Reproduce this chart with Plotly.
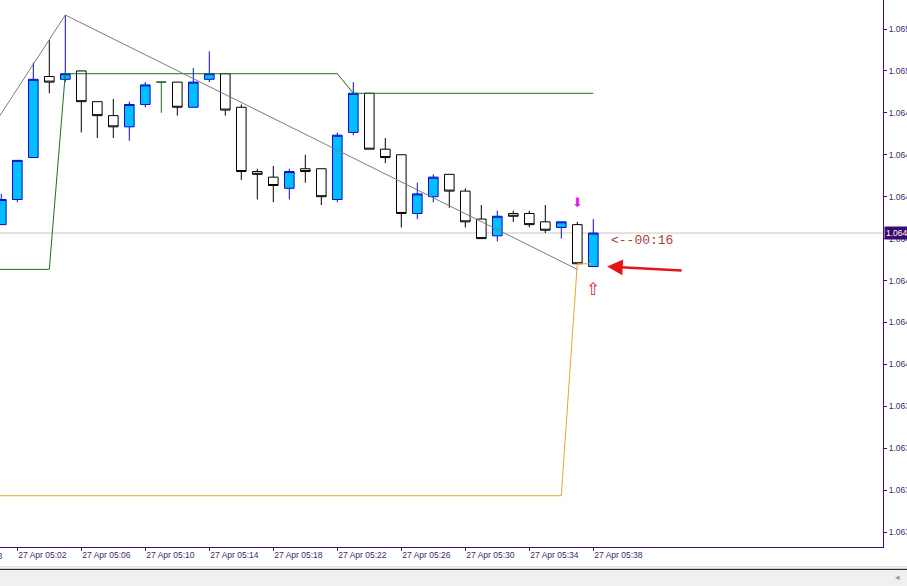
import plotly.graph_objects as go
import pandas as pd

DAY = "2023-04-27 "

# ---- 1-minute candles (27 Apr 05:01 .. 05:38) ----
times = ["05:01", "05:02", "05:03", "05:04", "05:05", "05:06", "05:07", "05:08", "05:09", "05:10",
         "05:11", "05:12", "05:13", "05:14", "05:15", "05:16", "05:17", "05:18", "05:19", "05:20",
         "05:21", "05:22", "05:23", "05:24", "05:25", "05:26", "05:27", "05:28", "05:29", "05:30",
         "05:31", "05:32", "05:33", "05:34", "05:35", "05:36", "05:37", "05:38"]
opens = [1.06455, 1.06464, 1.06479, 1.06508, 1.06507, 1.06510, 1.06499, 1.06494, 1.06490, 1.06498,
         1.06506, 1.06506, 1.06497, 1.06507, 1.06509, 1.06497, 1.06474, 1.06472, 1.06468, 1.06475,
         1.06475, 1.06464, 1.06488, 1.06502, 1.06482, 1.06480, 1.06459, 1.06465, 1.06473, 1.06467,
         1.06457, 1.06451, 1.06459, 1.06459, 1.06456, 1.06454, 1.06455, 1.06440]
highs = [1.06466, 1.06478, 1.06513, 1.06521, 1.06530, 1.06510, 1.06499, 1.06500, 1.06499, 1.06506,
         1.06506, 1.06506, 1.06511, 1.06517, 1.06509, 1.06498, 1.06475, 1.06476, 1.06475, 1.06480,
         1.06475, 1.06488, 1.06506, 1.06502, 1.06486, 1.06480, 1.06470, 1.06473, 1.06473, 1.06468,
         1.06462, 1.06460, 1.06460, 1.06460, 1.06462, 1.06456, 1.06456, 1.06457]
lows = [1.06455, 1.06463, 1.06479, 1.06502, 1.06506, 1.06488, 1.06486, 1.06486, 1.06485, 1.06497,
        1.06495, 1.06494, 1.06497, 1.06506, 1.06494, 1.06471, 1.06464, 1.06463, 1.06464, 1.06470,
        1.06462, 1.06463, 1.06487, 1.06482, 1.06477, 1.06454, 1.06457, 1.06463, 1.06461, 1.06454,
        1.06450, 1.06449, 1.06456, 1.06454, 1.06452, 1.06450, 1.06441, 1.06440]
closes = [1.06464, 1.06478, 1.06507, 1.06506, 1.06509, 1.06499, 1.06494, 1.06490, 1.06498, 1.06505,
          1.06506, 1.06497, 1.06506, 1.06509, 1.06496, 1.06474, 1.06473, 1.06469, 1.06474, 1.06474,
          1.06465, 1.06487, 1.06502, 1.06482, 1.06479, 1.06459, 1.06466, 1.06472, 1.06467, 1.06456,
          1.06450, 1.06458, 1.06458, 1.06455, 1.06453, 1.06456, 1.06441, 1.06452]

# ---- indicator lines (vertices) ----
zigzag_times = ["05:00", "05:05", "05:37"]
zigzag_vals = [1.06486, 1.06530, 1.06439]
green_times = ["05:00", "05:04", "05:05", "05:22", "05:23", "05:38"]
green_vals = [1.06439, 1.06439, 1.06509, 1.06509, 1.06502, 1.06502]
orange_times = ["05:00", "05:36", "05:37", "05:38"]
orange_vals = [1.06358, 1.06358, 1.06441, 1.06441]

# ---- axes ----
y_ticks = [1.06525, 1.06510, 1.06495, 1.06480, 1.06465, 1.06450, 1.06435,
           1.06420, 1.06405, 1.06390, 1.06375, 1.06360, 1.06345]
x_tick_times = ["05:02", "05:06", "05:10", "05:14", "05:18", "05:22", "05:26", "05:30", "05:34", "05:38"]
x_tick_labels = ["27 Apr 05:02", "27 Apr 05:06", "27 Apr 05:10", "27 Apr 05:14", "27 Apr 05:18",
                 "27 Apr 05:22", "27 Apr 05:26", "27 Apr 05:30", "27 Apr 05:34", "27 Apr 05:38"]
prev_label = "27 Apr 04:58"
timer_text = "<--00:16"

AXC = "#3d1070"
LBL = "#3a2a72"
FONT = "Liberation Sans"
FS = 8.5

t = pd.to_datetime([DAY + s for s in times])
df = pd.DataFrame({"t": t, "o": opens, "h": highs, "l": lows, "c": closes})
doji = df[df.o == df.c]
main = df[df.o != df.c]

fig = go.Figure()
fig.add_trace(go.Scatter(x=pd.to_datetime([DAY + s for s in orange_times]), y=orange_vals,
                         mode="lines", line=dict(color="#e6a532", width=1), hoverinfo="skip"))
fig.add_trace(go.Scatter(x=pd.to_datetime([DAY + s for s in green_times]), y=green_vals,
                         mode="lines", line=dict(color="#1f6e1f", width=1), hoverinfo="skip"))
fig.add_trace(go.Scatter(x=pd.to_datetime([DAY + s for s in zigzag_times]), y=zigzag_vals,
                         mode="lines", line=dict(color="#7c7c88", width=1), hoverinfo="skip"))
fig.add_trace(go.Candlestick(
    x=main.t, open=main.o, high=main.h, low=main.l, close=main.c,
    increasing=dict(line=dict(color="#0a0ac8", width=1), fillcolor="#00bfff"),
    decreasing=dict(line=dict(color="#000000", width=1), fillcolor="#ffffff"),
    whiskerwidth=0))
fig.add_trace(go.Candlestick(
    x=doji.t, open=doji.o, high=doji.h, low=doji.l, close=doji.c,
    increasing=dict(line=dict(color="#1f6e1f", width=1), fillcolor="#1f6e1f"),
    decreasing=dict(line=dict(color="#1f6e1f", width=1), fillcolor="#1f6e1f"),
    whiskerwidth=0))

last_t = t[-1]
last_c = closes[-1]

x_range = [pd.Timestamp(DAY + "05:02") - pd.Timedelta(seconds=64.9),
           pd.Timestamp(DAY + "05:02") + pd.Timedelta(seconds=3246.4)]

annotations = [
    dict(x=1, xref="paper", y=last_c, yref="y", text=f"{last_c:.5f}", showarrow=False,
         xanchor="left", yanchor="middle", xshift=1, bgcolor="#3a0a6c", borderpad=1,
         font=dict(family=FONT, size=FS, color="#ffffff")),
    dict(x=last_t + pd.Timedelta(seconds=60), y=1.064494, text=timer_text, showarrow=False,
         xanchor="left", yanchor="middle", font=dict(family="Liberation Mono", size=13, color="#a5403c")),
    dict(x=last_t + pd.Timedelta(seconds=52), y=lows[-1], ax=76, ay=4, axref="pixel", ayref="pixel",
         text="", showarrow=True, arrowhead=2, arrowsize=1.2, arrowwidth=2.6, arrowcolor="#e8141a"),
    dict(x=t[-2], y=1.06463, text="⬇", showarrow=False, yanchor="middle",
         font=dict(family="DejaVu Sans", size=13, color="#f018f0")),
    dict(x=last_t, y=1.06432, text="⇧", showarrow=False, yanchor="middle",
         font=dict(family="DejaVu Sans", size=17, color="#e01e28")),
    dict(x=0.004, xref="paper", y=-0.0165, yref="paper", text=prev_label, showarrow=False,
         xanchor="right", yanchor="middle", font=dict(family=FONT, size=FS, color=LBL)),
    dict(x=1.0165, xref="paper", y=-0.055, yref="paper", text="◂", showarrow=False,
         xanchor="center", yanchor="middle", font=dict(family="DejaVu Sans", size=9, color="#9a9a9a")),
]

shapes = [
    dict(type="line", xref="paper", x0=0, x1=1, yref="y", y0=last_c, y1=last_c,
         line=dict(color="#c8c8c8", width=1), layer="below"),
    dict(type="rect", xref="paper", x0=-0.01, x1=1.04, yref="paper", y0=-0.08, y1=-0.0397,
         fillcolor="#f0f0f0", line=dict(width=0), layer="above"),
    dict(type="line", xref="paper", x0=-0.01, x1=1.04, yref="paper", y0=-0.0363, y1=-0.0363,
         line=dict(color="#d8d8d8", width=1)),
    dict(type="line", xref="paper", x0=-0.01, x1=1.04, yref="paper", y0=-0.0408, y1=-0.0408,
         line=dict(color="#000000", width=1)),
]

fig.update_layout(
    width=907, height=586,
    margin=dict(l=0, r=24, t=0, b=39, pad=0, autoexpand=False),
    paper_bgcolor="#ffffff", plot_bgcolor="#ffffff",
    showlegend=False,
    boxgap=0.4, boxgroupgap=0,
    annotations=annotations, shapes=shapes,
    xaxis=dict(type="date", range=x_range, rangeslider=dict(visible=False), automargin=False,
               tickvals=pd.to_datetime([DAY + s for s in x_tick_times]), ticktext=x_tick_labels,
               ticklabelposition="outside right",
               showgrid=False, zeroline=False, showline=True, linecolor=AXC, linewidth=1,
               ticks="outside", ticklen=3, tickcolor=AXC,
               tickfont=dict(family=FONT, size=FS, color=LBL)),
    yaxis=dict(range=[1.0633965, 1.0653538], side="right", automargin=False,
               tickvals=y_ticks, ticktext=[f"{v:.5f}" for v in y_ticks],
               showgrid=False, zeroline=False, showline=True, linecolor=AXC, linewidth=1,
               ticks="outside", ticklen=3, tickcolor=AXC,
               tickfont=dict(family=FONT, size=FS, color=LBL)),
)

fig.write_html("out.html", config={"displayModeBar": False},
               post_script="document.body.style.margin='0';document.body.style.overflow='hidden';")
